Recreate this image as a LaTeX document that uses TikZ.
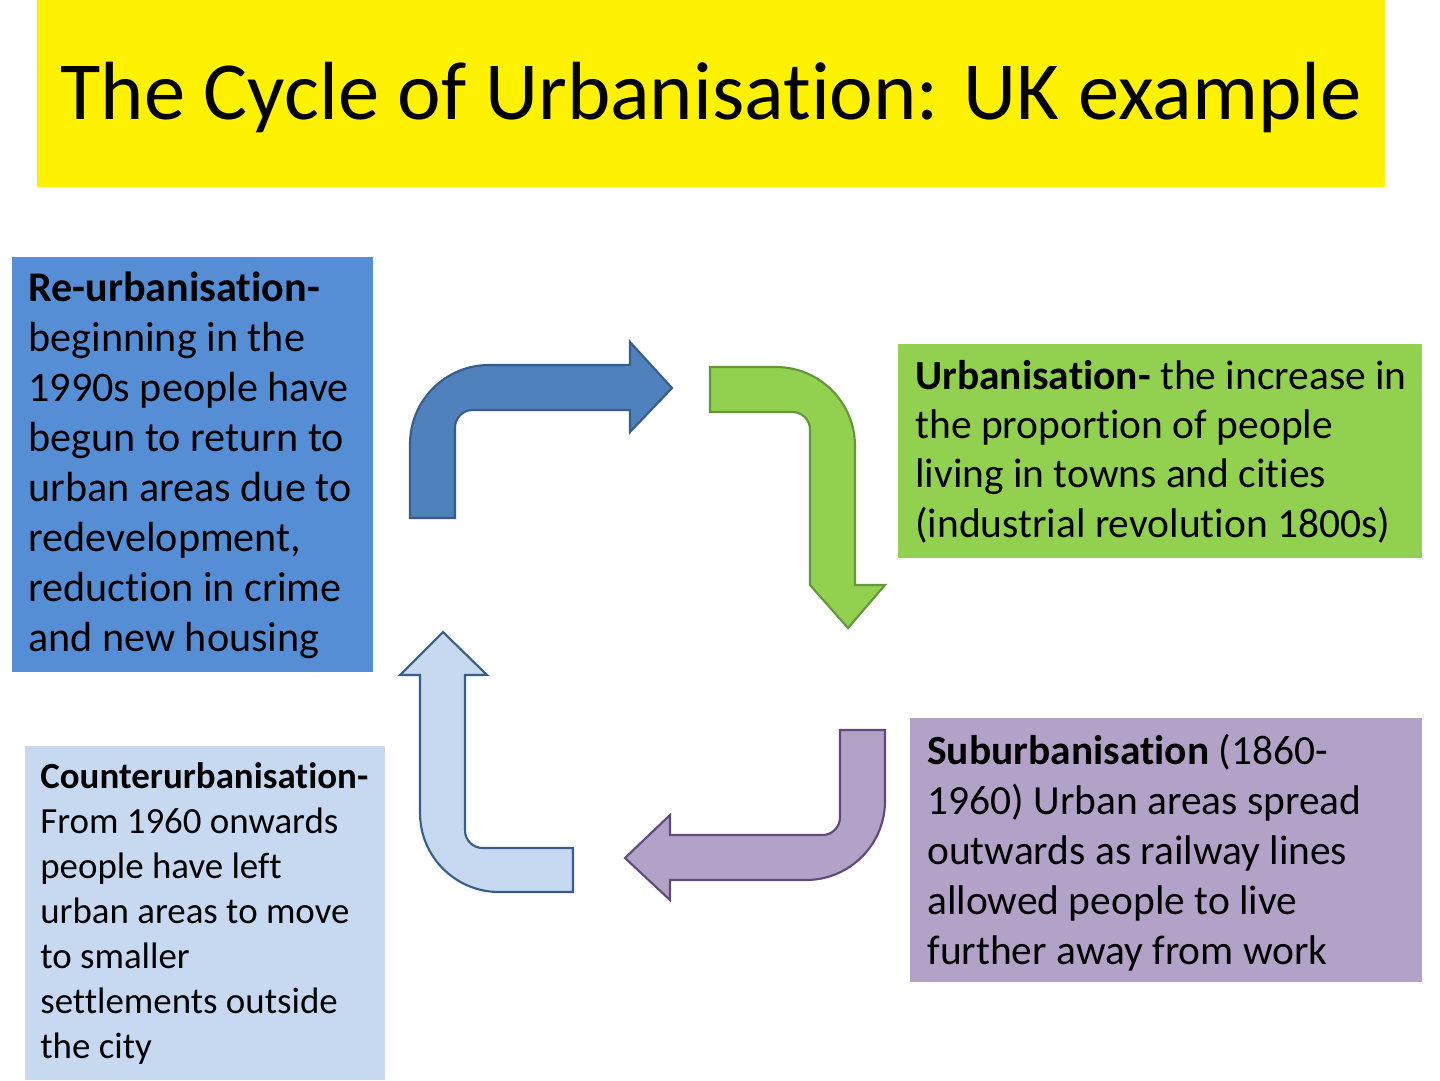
\documentclass[tikz,border=0pt]{standalone}
\usepackage{fontspec}
\setmainfont[RawFeature={-liga}]{Carlito}
\begin{document}
\begin{tikzpicture}[x=0.02cm,y=-0.02cm,
  boxtxt/.style={anchor=north west,align=left,inner sep=0pt,text=black},
  arr/.style={line width=1.2pt,line join=miter}]
\useasboundingbox (0,0) rectangle (1440,1080);
\fill[white] (0,0) rectangle (1440,1080);
% title
\fill[yellow] (37,0) rectangle (1385,187);
\node[font=\fontsize{47}{56}\selectfont] (title) at (711,97) {The Cycle of Urbanisation: UK example};
% boxes
\fill[fill={rgb,255:red,85;green,142;blue,213}] (12,257) rectangle (373,672);
\node[boxtxt,font=\fontsize{24}{28.45}\selectfont] (reurb) at (28,272) {\textbf{Re-urbanisation-}\\beginning in the\\1990s people have\\begun to return to\\urban areas due to\\redevelopment,\\reduction in crime\\and new housing};
\fill[fill={rgb,255:red,146;green,208;blue,80}] (898,344) rectangle (1422,558);
\node[boxtxt,font=\fontsize{23.6}{28}\selectfont] (urb) at (915,360) {\textbf{Urbanisation-} the increase in\\the proportion of people\\living in towns and cities\\(industrial revolution 1800s)};
\fill[fill={rgb,255:red,179;green,162;blue,199}] (910,718) rectangle (1422,982);
\node[boxtxt,font=\fontsize{23.6}{28.45}\selectfont] (sub) at (927,734) {\textbf{Suburbanisation} (1860-\\1960) Urban areas spread\\outwards as railway lines\\allowed people to live\\further away from work};
\fill[fill={rgb,255:red,198;green,217;blue,241}] (25,746) rectangle (385,1080);
\node[boxtxt,font=\fontsize{21}{25.6}\selectfont] (counter) at (40,762) {\textbf{Counterurbanisation-}\\From 1960 onwards\\people have left\\urban areas to move\\to smaller\\settlements outside\\the city};
% arrows
\draw[arr,fill={rgb,255:red,79;green,129;blue,189},draw={rgb,255:red,56;green,93;blue,138}]
 (410,518) [rounded corners=45] -- (410,365) [sharp corners] -- (630,365) -- (630,342) -- (672,388) -- (630,432) -- (630,410) [rounded corners=10] -- (455,410) [sharp corners] -- (455,518) -- cycle;
\draw[arr,fill={rgb,255:red,146;green,208;blue,80},draw={rgb,255:red,100;green,150;blue,60}]
 (710,367) [rounded corners=45] -- (855,367) [sharp corners] -- (855,585) -- (885,585) -- (848,628) -- (810,585) [rounded corners=10] -- (810,412) [sharp corners] -- (710,412) -- cycle;
\draw[arr,fill={rgb,255:red,179;green,162;blue,199},draw={rgb,255:red,96;green,74;blue,123}]
 (885,730) [rounded corners=45] -- (885,880) [sharp corners] -- (670,880) -- (670,900) -- (625,858) -- (670,815) -- (670,835) [rounded corners=10] -- (840,835) [sharp corners] -- (840,730) -- cycle;
\draw[arr,fill={rgb,255:red,198;green,217;blue,241},draw={rgb,255:red,56;green,93;blue,138}]
 (573,892) [rounded corners=45] -- (420,892) [sharp corners] -- (420,675) -- (400,675) -- (443,632) -- (487,675) -- (465,675) [rounded corners=10] -- (465,848) [sharp corners] -- (573,848) -- cycle;
\end{tikzpicture}
\end{document}
